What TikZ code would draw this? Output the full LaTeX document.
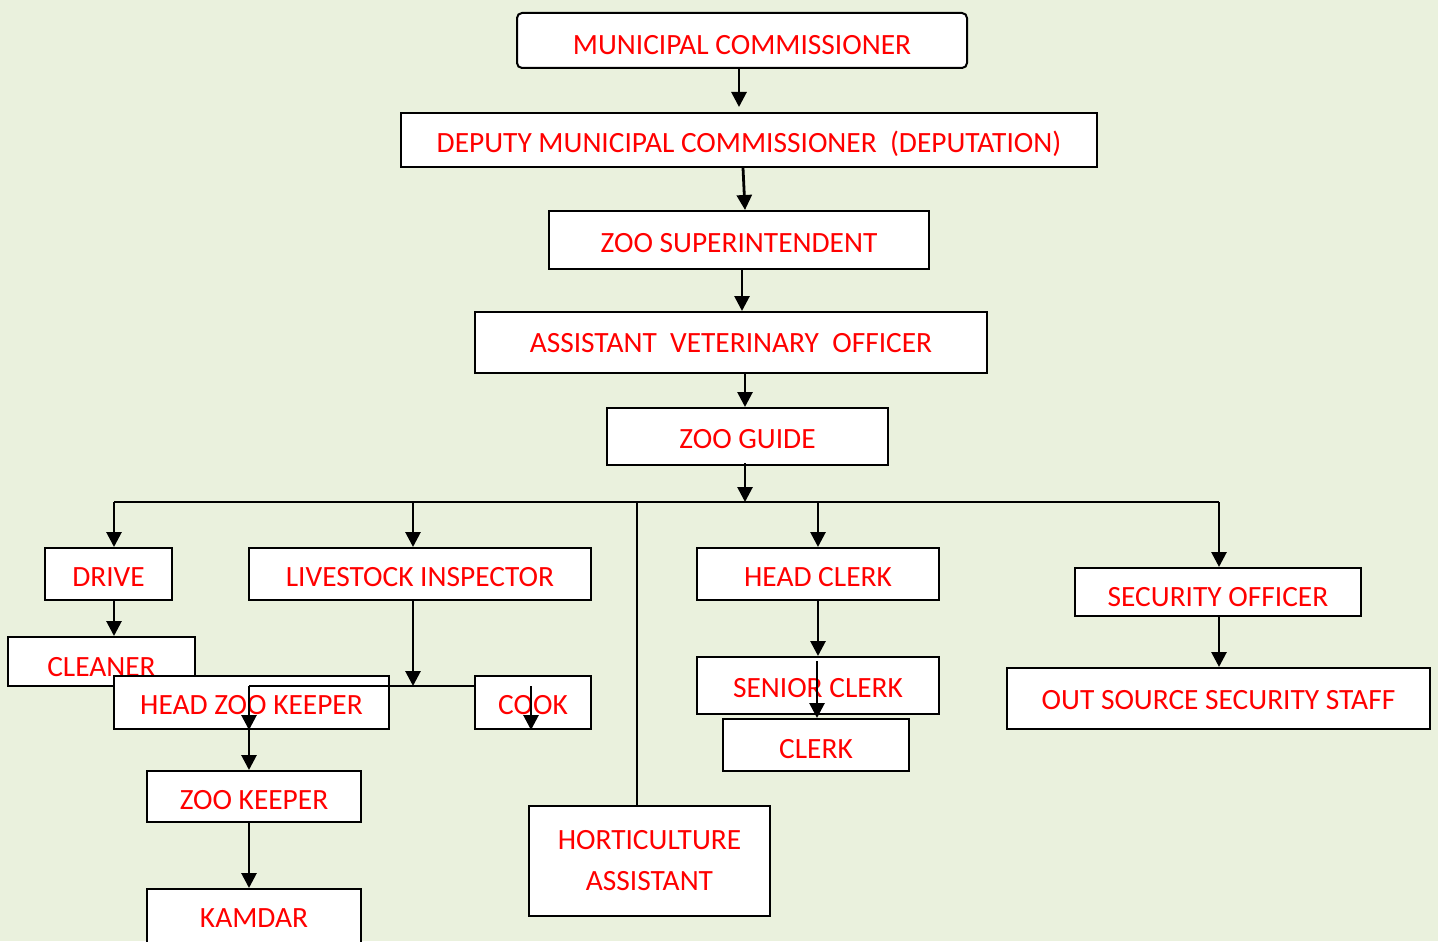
\documentclass[tikz,border=0pt]{standalone}
\usepackage{fontspec}
\setmainfont{Carlito}
\usepackage{xcolor}
\usetikzlibrary{calc, positioning, arrows.meta}
\definecolor{bgreen}{HTML}{EAF1DD}

\begin{document}
\begin{tikzpicture}[x=0.5pt, y=-0.5pt, semithick,
    > = {Triangle[length=7.5pt, width=7.5pt]},
    post/.style = {draw=black, line width=1pt, fill=white, inner sep=0pt, text=red,
      font=\fontsize{14.7}{20.5}\selectfont, text height=12pt, text depth=0pt},
    post2/.style = {draw=black, line width=1pt, fill=white, inner sep=0pt, text=red,
      font=\fontsize{14.7}{20.5}\selectfont, align=center},
    arr/.style = {->, line width=1.4pt},
    bus/.style = {line width=1.4pt},
    ]
    \def\px{0.5pt}
    \clip (0,0) rectangle (1438,941);
    \fill[bgreen] (0,0) rectangle (1438,941);

    \node[post, rounded corners=2.5pt, minimum width=450*\px, minimum height=55*\px, text height=14pt] (mc) at (742,40.5) {MUNICIPAL COMMISSIONER};
    \node[post, minimum width=696*\px, minimum height=54*\px, text height=12.5pt] (dmc) at (749,140) {DEPUTY MUNICIPAL COMMISSIONER~~(DEPUTATION)};
    \node[post, minimum width=380*\px, minimum height=58*\px] (zs) at (739,240) {ZOO SUPERINTENDENT};
    \node[post, minimum width=512*\px, minimum height=61*\px, text height=9.5pt] (avo) at (731,342.5) {ASSISTANT~~VETERINARY~~OFFICER};
    \node[post, minimum width=281*\px, minimum height=57*\px] (zg) at (747.5,436.5) {ZOO GUIDE};

    \node[post, minimum width=127*\px, minimum height=52*\px] (drive) at (108.5,574) {DRIVE};
    \node[post, minimum width=342*\px, minimum height=52*\px] (live) at (420,574) {LIVESTOCK INSPECTOR};
    \node[post, minimum width=242*\px, minimum height=52*\px] (hclerk) at (818,574) {HEAD CLERK};
    \node[post, minimum width=286*\px, minimum height=48*\px, text height=14pt] (sec) at (1218,592) {SECURITY OFFICER};
    \node[post, minimum width=423*\px, minimum height=61*\px, text height=11pt] (oss) at (1218.5,698.5) {OUT SOURCE SECURITY STAFF};

    \node[post, minimum width=187*\px, minimum height=49*\px, text height=15pt] (cleaner) at (101.5,661.5) {CLEANER};
    \node[post, minimum width=275*\px, minimum height=53*\px] (hzk) at (251.5,702.5) {HEAD ZOO KEEPER};
    \node[post, minimum width=116*\px, minimum height=53*\px] (cook) at (533,702.5) {COOK};
    \node[post, minimum width=214*\px, minimum height=51*\px, text height=13pt] (zk) at (254,796.5) {ZOO KEEPER};
    \node[post, minimum width=214*\px, minimum height=56*\px, text height=10.5pt] (kamdar) at (254,917) {KAMDAR};
    \node[post2, minimum width=241*\px, minimum height=110*\px] (hort) at (649.5,861) {HORTICULTURE\\ASSISTANT};

    \node[post, minimum width=242*\px, minimum height=57*\px] (sclerk) at (818,685.5) {SENIOR CLERK};
    \node[post, minimum width=186*\px, minimum height=52*\px, text height=13pt] (clerk) at (816,745) {CLERK};

    \coordinate (b1) at (114,502);
    \coordinate (b2) at (413,502);
    \coordinate (b3) at (637,502);
    \coordinate (b4) at (745,502);
    \coordinate (b5) at (818,502);
    \coordinate (b6) at (1219,502);
    \coordinate (hk) at (249,686);
    \coordinate (ck) at (531,686);

    \draw[arr, shorten >=2.5pt] ([xshift=-1.5pt]mc.south) -- ([xshift=-1.5pt]mc.south |- dmc.north);
    \draw[arr] ([xshift=-3pt]dmc.south) -- ([xshift=3pt]zs.north);
    \draw[arr] ([xshift=1.5pt]zs.south) -- ([xshift=1.5pt]zs.south |- avo.north);
    \draw[arr] ([xshift=7pt]avo.south) -- ([xshift=7pt]avo.south |- zg.north);
    \draw[arr] ([xshift=-1.25pt, yshift=1.5pt]zg.south) -- (b4);

    \draw[bus] (b1) -- (b6);
    \draw[arr] (b1) -- (b1 |- drive.north);
    \draw[arr] (b2) -- (b2 |- live.north);
    \draw[line width=1pt] (b3) -- (b3 |- hort.north);
    \draw[arr] (b5) -- (b5 |- hclerk.north);
    \draw[arr] (b6) -- (b6 |- sec.north);

    \draw[arr] (b1 |- drive.south) -- (b1 |- cleaner.north);
    \draw[arr] (b2 |- live.south) -- (b2 |- hk);
    \draw[line width=1pt] (hk) -- (hk -| cook.west);
    \draw[arr] (hk) -- (hk |- hzk.south);
    \draw[arr] (ck) -- (ck |- cook.south);
    \draw[arr] (hk |- hzk.south) -- (hk |- zk.north);
    \draw[arr] (hk |- zk.south) -- (hk |- kamdar.north);

    \draw[arr] (b5 |- hclerk.south) -- (b5 |- sclerk.north);
    \draw[arr] ([xshift=-0.5pt, yshift=-2.5pt]sclerk.north) -- ([xshift=-0.5pt]sclerk.north |- clerk.north);
    \draw[arr] (b6 |- sec.south) -- (b6 |- oss.north);
\end{tikzpicture}
\end{document}
